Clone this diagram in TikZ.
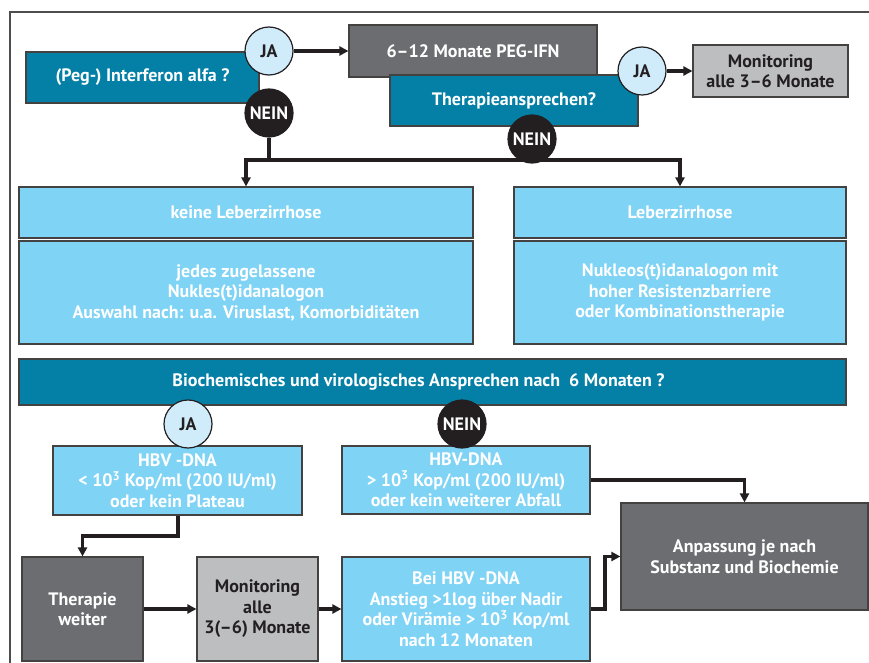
\documentclass[tikz,border=0pt]{standalone}
\usepackage{fontspec}
\setmainfont{PT Sans}
\usetikzlibrary{arrows.meta,backgrounds}
\definecolor{teal1}{HTML}{0480A6}
\definecolor{lblue}{HTML}{7FD3F5}
\definecolor{dgray}{HTML}{6C6D71}
\definecolor{lgray}{HTML}{BDBEC0}
\definecolor{jafill}{HTML}{D0ECFA}
\definecolor{inkk}{HTML}{231F20}
\tikzset{
  x=1pt,y=-1pt,
  every node/.style={font=\fontsize{18}{20.5}\selectfont\bfseries, align=center, inner sep=0pt},
  box/.style={draw=inkk!85, line width=1.2pt, rectangle},
  tealbox/.style={box, fill=teal1, text=white},
  bluebox/.style={box, fill=lblue, text=white},
  dbox/.style={box, fill=dgray, text=white},
  gbox/.style={box, fill=lgray, text=inkk},
  jacirc/.style={circle, draw=inkk, line width=1.2pt, fill=jafill, text=inkk, minimum size=48pt},
  neincirc/.style={circle, draw=inkk, line width=1.2pt, fill=inkk, text=white, minimum size=48pt},
  conn/.style={draw=inkk, line width=3.2pt},
  arr/.style={conn, -{Triangle[length=9pt,width=9pt]}},
}
\begin{document}
\begin{tikzpicture}
\useasboundingbox (0,0) rectangle (869,663);
\draw[inkk!80, line width=1.2pt] (869,12) -- (10,12) -- (10,663);

% top row
\node[tealbox, minimum width=233pt, minimum height=51pt] (peg) at (142.5,77.5) {(Peg-) Interferon alfa ?};
\node[dbox, minimum width=248pt, minimum height=52pt] (peg612) at (473,51) {6–12 Monate PEG-IFN};
\node[tealbox, minimum width=248pt, minimum height=51pt] (ansp) at (514,100.5) {Therapieansprechen?};
\node[gbox, minimum width=155pt, minimum height=52pt] (mon1) at (770.5,71) {Monitoring\\alle 3–6 Monate};
\node[jacirc] (ja1) at (269,51) {JA};
\node[neincirc] (nein1) at (269,113) {NEIN};
\node[jacirc] (ja2) at (642,71) {JA};
\node[neincirc] (nein2) at (532,139) {NEIN};

% second row
\node[bluebox, minimum width=454pt, minimum height=51pt] (keine) at (246,212.5) {keine Leberzirrhose};
\node[bluebox, minimum width=454pt, minimum height=103pt] (jedes) at (246,292.5) {jedes zugelassene\\Nukles(t)idanalogon\\Auswahl nach: u.a. Viruslast, Komorbiditäten};
\node[bluebox, minimum width=332pt, minimum height=51pt] (leber) at (680,212.5) {Leberzirrhose};
\node[bluebox, minimum width=332pt, minimum height=103pt] (nukl) at (680,292.5) {Nukleos(t)idanalogon mit\\hoher Resistenzbarriere\\oder Kombinationstherapie};

% bar
\node[tealbox, minimum width=827pt, minimum height=46pt] (bio) at (432.5,382) {Biochemisches und virologisches Ansprechen nach\ \ 6 Monaten ?\hspace*{28pt}};

% third row
\node[bluebox, minimum width=249pt, minimum height=69pt] (hbvl) at (177.5,480.5) {HBV -DNA\\< 10\textsuperscript{3} Kop/ml (200 IU/ml)\\oder kein Plateau};
\node[bluebox, minimum width=248pt, minimum height=68pt] (hbvr) at (466,480) {HBV-DNA\\> 10\textsuperscript{3} Kop/ml (200 IU/ml)\\oder kein weiterer Abfall};
\node[jacirc] (ja3) at (188,424) {JA};
\node[neincirc] (nein3) at (462,424) {NEIN};
\node[dbox, minimum width=247pt, minimum height=107pt] (anp) at (744.5,556.5) {Anpassung je nach\\Substanz und Biochemie};

% bottom row
\node[dbox, minimum width=121pt, minimum height=104pt] (ther) at (82.5,609) {Therapie\\weiter};
\node[gbox, minimum width=121pt, minimum height=104pt] (mon2) at (257.5,609) {Monitoring\\alle\\3(–6) Monate};
\node[bluebox, minimum width=248pt, minimum height=104pt] (bei) at (466,609) {Bei HBV -DNA\\Anstieg >1log über Nadir\\oder Virämie > 10\textsuperscript{3} Kop/ml\\nach 12 Monaten};

\coordinate (j1) at (269,160);
\coordinate (jl1) at (178,536);
\coordinate (jb1) at (605,609);

\begin{pgfonlayer}{background}
\fill[white] (0,0) rectangle (869,663);
\draw[arr] (ja1.east) -- (peg612.west);
\draw[arr] (ja2.east) -- (mon1.west);
\draw[conn] (nein1.south) -- (j1);
\draw[arr] (j1) -| (keine.north);
\draw[arr] (j1) -| (leber.north);
\draw[arr] (hbvl.south -| jl1) -- (jl1) -| (ther.north);
\draw[arr] (hbvr.east) -| (anp.north);
\draw[arr] (ther.east) -- (mon2.west);
\draw[arr] (mon2.east) -- (bei.west);
\draw[arr] (bei.east) -- (jb1) |- (anp.west);
\end{pgfonlayer}
\end{tikzpicture}
\end{document}
